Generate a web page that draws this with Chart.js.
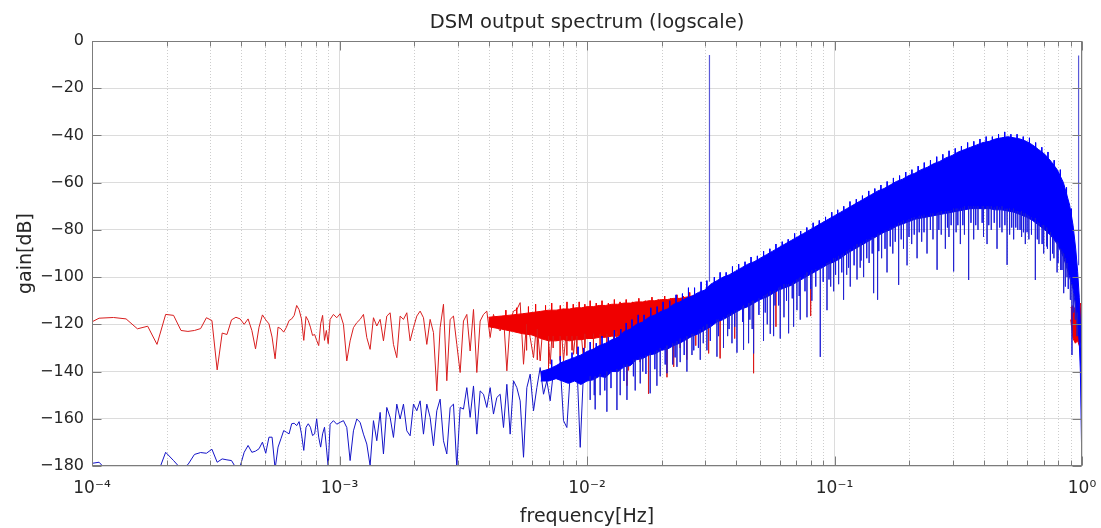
<!DOCTYPE html>
<html><head><meta charset="utf-8">
<script src="https://cdn.jsdelivr.net/npm/chart.js@4.4.1/dist/chart.umd.min.js"></script>
<style>html,body{margin:0;padding:0;background:#fff;}canvas{display:block;}</style>
</head><body>
<canvas id="c" width="1101" height="528"></canvas>
<script>
// ---------------- data ----------------
const titleText = 'DSM output spectrum (logscale)';
const xAxisTitle = 'frequency[Hz]';
const yAxisTitle = 'gain[dB]';
const decades = [1e-4, 1e-3, 1e-2, 1e-1, 1];
const xTickLabels = ['10⁻⁴', '10⁻³', '10⁻²', '10⁻¹', '10⁰'];
const minorSteps = [2, 3, 4, 5, 6, 7, 8, 9];

// lowest FFT bins (mHz)
const lowFreqMilliHz = [0.0916,0.1068,0.1221,0.1373,0.1526,0.1679,0.1831,0.1984,0.2136,0.2289,
 0.2441,0.2594,0.2747,0.2899,0.3052,0.3204,0.3357,0.3510,0.3662,0.3815,
 0.3967,0.4120,0.4272,0.4425,0.4578,0.4730,0.4883,0.5035,0.5188,0.5341,
 0.5493,0.5646,0.5798,0.5951,0.6104,0.6256,0.6409,0.6561,0.6714,0.6866,
 0.7019,0.7172,0.7324,0.7477,0.7629,0.7782,0.7935,0.8087,0.8240,0.8392,
 0.8545,0.8698,0.8850,0.9003];
const redLowDb = [-121,-117.4,-117.1,-117.7,-121.9,-120.8,-128.5,-115.8,-116.2,-122.6,
 -123,-122.6,-121.8,-117.2,-118.4,-139.3,-123.7,-124.3,-118.1,-117,
 -117.7,-120,-117.7,-122.6,-130.4,-121.2,-116,-118.1,-119.8,-125.4,
 -134.6,-121.2,-121.9,-123.3,-121.2,-118.4,-117.7,-116.2,-112,-113.8,
 -117.7,-126.8,-116.7,-118.4,-121.2,-124.7,-124.3,-126.8,-129,-119.8,
 -116.2,-126.8,-122.6,-128.2];
const blueLowDb = [-179.5,-178.4,-185,-190,-188,-186,-184,-174.2,-177.7,-181.2,
 -179.4,-175.1,-174.3,-174.6,-172.9,-178.4,-177,-177.4,-177.7,-180.8,
 -180.2,-174.2,-171.3,-174.2,-173.7,-172.7,-169.9,-174.6,-167.8,-167.8,
 -181.2,-172,-168.5,-165,-165.7,-166.4,-162.1,-161.9,-162.9,-161.2,
 -166.4,-173.4,-163.6,-162.1,-163.6,-167.1,-166.4,-160,-167.8,-172,
 -166.4,-163.6,-172,-180.5];

// middle band (mHz)
const midFreqMilliHz = [0.9163,0.9452,0.9750,1.0057,1.0374,1.0701,1.1038,1.1386,1.1745,1.2115,
 1.2497,1.2890,1.3296,1.3715,1.4147,1.4593,1.5053,1.5527,1.6016,1.6521,
 1.7041,1.7578,1.8132,1.8703,1.9292,1.9900,2.0527,2.1174,2.1841,2.2529,
 2.3239,2.3971,2.4726,2.5505,2.6309,2.7138,2.7993,2.8875,2.9784,3.0723,
 3.1691,3.2689,3.3719,3.4782,3.5878,3.7008,3.8174,3.9376,4.0617,4.1897,
 4.3216,4.458,4.599,4.744,4.893,5.047,5.206,5.370,5.540,5.714,
 5.894,6.080,6.272,6.469,6.673,6.883,7.100,7.324,7.555,7.793,
 8.038,8.292,8.553,8.823,9.101,9.388,9.684,9.989];
const redMidDb = [-117.9,-115.8,-117.2,-115.5,-120,-135.5,-127,-121.4,-119.3,-117.9,
 -115.8,-125.6,-130.6,-117.2,-120.7,-117.9,-127,-116.5,-115.1,-128.5,
 -134.1,-116.5,-117.9,-115.1,-127,-121.4,-116.5,-114.4,-117.2,-128.5,
 -117.9,-123.5,-148.2,-121.4,-111.5,-143.9,-117.9,-116.5,-128.5,-140.4,
 -118.6,-115.8,-131.3,-113.7,-140.4,-118.6,-115.8,-114.4,-125.6,-115.8,
 -120.7,-122.8,-116.5,-139.7,-118.6,-114.4,-113.7,-110.8,-136.9,-117.2,
 -125.6,-134.1,-118.6,-135.5,-117.2,-115.8,-136.9,-114.4,-127,-114.4,
 -135.5,-120,-115.8,-132.7,-117.2,-118.6,-135.5,-115.8];
const blueMidDb = [-162.3,-160.8,-162.3,-161.5,-160.8,-163.7,-177.7,-165.1,-160.1,-161.5,
 -166.5,-170.7,-179.9,-160.8,-169.3,-157.3,-174.9,-155.2,-159.4,-167.9,
 -153.8,-160.1,-153.8,-165.1,-167.2,-153.8,-156.6,-152.4,-166.5,-153.8,
 -159.4,-171.4,-156.6,-151.7,-169.3,-174.9,-155.2,-153.8,-180.6,-155.2,
 -155.9,-146.8,-159.4,-146.1,-166.5,-148.2,-149.6,-155.2,-146.8,-158,
 -151,-149.6,-163.7,-145.4,-166.5,-143.9,-146.8,-152.4,-176.3,-146.8,
 -141.1,-156.6,-146.8,-138.3,-149.6,-143.9,-152.4,-139.7,-142.5,-136.9,
 -160.8,-163.7,-141.1,-139.7,-136.2,-172.1,-139.7,-136.9];

// dense blue band: upper / lower edge of the solid part (Hz)
const blueBandFreq = [0.0065,0.0070,0.0075,0.00794,0.00841,0.00891,0.00944,
 0.0100,0.01059,0.01122,0.01189,0.01259,0.01334,0.01413,0.01496,0.01585,0.01679,
 0.01778,0.01884,0.01995,0.02113,0.02239,0.02371,0.02512,0.02661,0.02818,0.02985,
 0.03162,0.03350,0.03548,0.03758,0.03981,0.04217,0.04467,0.04732,0.05012,0.05309,
 0.05623,0.05957,0.06310,0.06683,0.07079,0.07499,0.07943,0.08414,0.08913,0.09441,
 0.1000,0.1059,0.1122,0.1189,0.1259,0.1334,0.1413,0.1496,0.1585,0.1679,
 0.1778,0.1884,0.1995,0.2113,0.2239,0.2371,0.2512,0.2661,0.2818,0.2985,
 0.3162,0.3350,0.3548,0.3758,0.3981,0.4217,0.4467,0.4732,0.5012,0.5309,
 0.5623,0.5957,0.6310,0.6683,0.7079,0.7499,0.7943,0.8414,0.8913,
 0.92,0.9441,0.96,0.975,0.985,0.992,0.997,1.0];
const blueBandHi = [-140,-139,-137.5,-136,-135,-134,-133,
 -131.5,-130.5,-129,-128,-126.5,-125.5,-123,-122,-120,-119,
 -117,-116,-114.5,-113.5,-111.5,-110.5,-109,-108,-106.5,-105.5,
 -103,-101.5,-100,-99,-97.5,-96,-94.5,-93.5,-92,-90.5,
 -89,-87.5,-86,-84.5,-83,-81.5,-80,-78.5,-77,-75.5,
 -74,-72.5,-71,-69.5,-68,-66.5,-65,-63.5,-62.5,-61,
 -59.5,-58.5,-57,-56,-54.5,-53.5,-52,-51,-49.5,-48.5,
 -47,-46,-45,-44,-43,-42.5,-41.5,-41,-40.5,-41,
 -41.5,-42.5,-44,-46,-48,-51,-54.5,-60,-69.5,
 -78,-88.5,-97.5,-108.5,-119,-133,-151,-175];
const blueBandLo = [-144,-144,-143,-144,-145,-144,-145.5,
 -144,-143.5,-142,-142.5,-140,-140,-138,-137.5,-135,-134.5,
 -133,-132.5,-131,-130.5,-129,-128,-126.5,-125,-124,-122.5,
 -121,-119,-118,-116.5,-115,-113.5,-112.5,-111,-109.5,-108.5,
 -107,-105.5,-104.5,-103.5,-102,-100.5,-99,-97.5,-96,-94.5,
 -93.5,-92,-90,-88.5,-87,-85.5,-84,-82.5,-81,-80,
 -78.5,-77.5,-76.5,-75.5,-75,-74.5,-74,-73.5,-73,-72.5,
 -72,-71.5,-71,-71,-71,-71,-71.5,-71.5,-72,-72.5,
 -73.5,-74.5,-76,-78,-80,-82.5,-86,-91.5,-100,
 -105,-113,-119,-128,-140,-160,-175,-185];

// small upward spikes on top of the blue band (Hz, dB)
const bluePeakFreq = [0.0072,0.0078,0.0087,0.0092,0.0097,0.0103,0.0109,0.0115,0.0122,0.0129,
 0.0137,0.0144,0.0152,0.0161,0.0170,0.0181,0.0192,0.0203,0.0216,0.0229,
 0.0243,0.0257,0.0272,0.0289,0.0305,0.0327,0.0345,0.0365,0.0387,0.0410,
 0.0435,0.0460,0.0488,0.0517,0.0548,0.0580,0.0615,0.0650,0.0690,0.0730,
 0.0773,0.0820,0.0868,0.0920,0.0975,0.1030,0.1090,0.1155,0.1225,0.1297,
 0.1375,0.1455,0.1540,0.1632,0.1730,0.1832,0.1940,0.2055,0.2178,0.2305,
 0.2442,0.2588,0.2740,0.2903,0.3075,0.3257,0.3450,0.3655,0.3870,0.4100,
 0.4343,0.4600,0.4872,0.5160,0.5466,0.5790,0.6133,0.6496,0.6880,0.7287,
 0.7718,0.8175,0.8660,0.9050];
const bluePeakDb = [-135,-133.5,-132,-129.5,-130,-127.5,-128,-125,-125.5,-122.5,
 -122,-119.5,-118,-116,-116,-113,-112.5,-110.5,-110,-107.5,
 -107,-104.5,-104.5,-102,-101.5,-100,-98,-98,-95.5,-94.5,
 -93.5,-91.5,-91,-89,-88,-86,-85,-84,-81.5,-80.5,
 -79,-77,-76,-74.5,-72.5,-71.5,-70,-68,-67,-65.5,
 -63.5,-62.5,-61,-59.5,-58,-57,-55.5,-54.5,-53,-51.5,
 -50.5,-49,-48,-46.5,-45.5,-44.5,-43,-42.5,-41.5,-40.5,
 -40.5,-39.5,-38.5,-39.5,-39.5,-40.5,-41,-43,-45,-47,
 -50.5,-54.5,-62,-71];

// deep downward spikes of the blue trace (Hz, from dB, to dB)
const blueDipFreq = [0.0103,0.01079,0.0113,0.01203,0.01321,0.01362,0.0145,0.01566,0.01641,0.0168,
 0.018,0.01916,0.01976,0.02104,0.0222,0.02309,0.0238,0.02533,0.02655,0.02868,
 0.0295,0.03052,0.0335,0.03561,0.037,0.03852,0.04035,0.04291,0.04496,0.0465,
 0.0471,0.05167,0.0535,0.05501,0.05674,0.06037,0.0625,0.06524,0.06834,0.0705,
 0.07272,0.0774,0.081,0.08761,0.09326,0.0965,0.0992,0.1039,0.1088,0.112,
 0.1158,0.1233,0.127,0.1311,0.138,0.1439,0.1493,0.155,0.163,0.172,
 0.1816,0.19,0.1964,0.205,0.2156,0.225,0.2365,0.25,0.2597,0.27,
 0.2805,0.29,0.3029,0.31,0.3225,0.335,0.3483,0.365,0.38,0.40,
 0.4134,0.43,0.4536,0.475,0.4981,0.51,0.5294,0.55,0.57,0.5903,
 0.61,0.6479,0.67,0.7002,0.72,0.7453,0.77,0.7931,0.82,0.8433,
 0.8567,0.87,0.8976,0.911,0.9258,0.94,0.9554];
const blueDipTop = [-142,-142,-141,-140,-139,-139,-137,-135,-134,-134,
 -132,-131,-130,-129,-128,-127,-126,-125,-124,-122,
 -121,-120,-118,-117,-116,-115,-114,-112,-111,-110,
 -110,-108,-107,-106,-106,-104,-103,-103,-102,-101,
 -100,-98,-97,-96,-94,-93,-92,-91,-90,-89,
 -88,-86,-86,-85,-84,-83,-82,-81,-80,-79,
 -77,-76,-76,-75,-75,-74,-74,-73,-73,-72,
 -72,-72,-71,-71,-71,-70,-70,-70,-70,-70,
 -70,-70,-70,-70,-71,-71,-71,-72,-72,-73,
 -74,-75,-77,-78,-79,-81,-84,-85,-88,-90,
 -92,-94,-100,-103,-107,-110,-115];
const blueDipDb = [-152,-156,-150,-157,-156.3,-150,-152,-148,-145,-140,
 -149.2,-146,-142,-140.7,-137,-138,-136,-140,-133,-135,
 -128,-131,-133.7,-130,-125,-128,-132,-130.8,-128,-122,
 -132.3,-127,-120,-124,-125,-126,-117,-123.8,-121,-114,
 -118,-117,-110,-133.8,-114,-104,-106,-103,-109.6,-99,
 -104,-101,-96,-100,-94,-106.8,-109.6,-92,-98,-90,
 -103.3,-88,-95,-86,-92,-85,-90,-84,-96.9,-82,
 -88,-83,-97.6,-81,-86,-82,-101.2,-84,-80,-83,
 -86,-80,-88,-81,-94.8,-82,-84,-80,-83,-86,
 -84,-101.2,-86,-90,-87,-93,-92,-98,-97,-106.8,
 -104,-100,-109.6,-133,-115,-118,-125];

// short downward fringe under the blue band (Hz, from dB, to dB)
const blueFringeFreq = [0.0107,0.0118,0.0125,0.0141,0.0154,0.0173,0.0188,0.0207,0.0227,0.0247,
 0.0270,0.0282,0.0315,0.0340,0.0375,0.0395,0.0425,0.0455,0.0495,0.0525,
 0.0575,0.0595,0.0640,0.0675,0.0720,0.0760,0.0800,0.0840,0.0900,0.0950,
 0.1010,0.1070,0.1140,0.1200,0.1280,0.1350,0.1420,0.1510,0.1600,0.1680,
 0.1760,0.1860,0.2000,0.2100,0.2200,0.2300,0.2440,0.2640,0.2860,0.2960,
 0.3150,0.3300,0.3560,0.3720,0.3950,0.4200,0.4420,0.4650,0.4880,0.5200,
 0.5400,0.5620,0.5800,0.6000,0.6250,0.6600,0.6900,0.7250,0.7600,0.8000,
 0.8300,0.8800];
const blueFringeTop = [-142.5,-141.5,-139.5,-137,-135,-133,-131.5,-130,-128,-126,
 -124,-123,-120,-118,-115.5,-114,-112.5,-111,-109,-107.5,
 -105.5,-104.5,-103,-102.5,-100.5,-99,-98,-96.5,-95,-93.5,
 -92,-90.5,-88.5,-87,-85.5,-84,-83,-81.5,-80,-79,
 -78,-76.5,-75.5,-74.5,-74,-73.5,-73,-72.5,-72,-71.5,
 -71,-70.5,-70,-70,-70,-70,-70.5,-70.5,-71,-71.5,
 -72,-72.5,-73,-73.5,-74.5,-76.5,-78,-80,-82.5,-85.5,
 -89,-97];
const blueFringeDb = [-150,-148,-147,-144,-142,-141,-139,-137,-134,-133,
 -131,-130,-127,-125,-122,-121,-119,-118,-116,-115,
 -112,-112,-110,-109,-108,-106,-105,-104,-102,-101,
 -99,-98,-96,-95,-93,-92,-90,-89,-88,-87,
 -85,-84,-83,-82,-81,-81,-80,-80,-79,-78,
 -78,-78,-77,-78,-77,-78,-77,-79,-78,-79,
 -79,-80,-81,-81,-82,-84,-86,-88,-90,-94,
 -97,-105];

// dense red band (Hz)
const redBandFreq = [0.0040,0.0045,0.0050,0.0055,0.0060,0.0065,0.0070,0.0075,0.0080,0.0085,
 0.0090,0.0095,0.0100,0.0106,0.0112,0.0119,0.0126,0.0133,0.0141,0.0150,
 0.0158,0.0168,0.0178,0.0188,0.0200,0.0211,0.0224,0.0237,0.0251,0.0266,
 0.0282,0.0299,0.0316];
const redBandHi = [-117,-116.5,-116,-115.5,-115,-114.5,-114,-114,-113.5,-113.5,
 -113,-113,-112.5,-112.5,-112,-112,-111.5,-111.5,-111,-111,
 -110.5,-110.5,-110,-110,-109.5,-109.5,-109,-109,-108.5,-108,
 -107.5,-107,-106.5];
const redBandLo = [-121,-122,-123,-124,-124.5,-126,-127,-127,-126.5,-127,
 -126.5,-126.5,-126,-126,-125.5,-125.5,-125,-125,-124.5,-124,
 -123.5,-123,-122.5,-122,-121.5,-121,-121,-120.5,-120,-119,
 -117,-114,-110];
const redPeakFreq = [0.0047,0.0052,0.0058,0.0062,0.0068,0.0072,0.0078,0.0083,0.0088,0.0093,
 0.0098,0.0103,0.0109,0.0115,0.0122,0.0129,0.0136,0.0144,0.0153,0.0162,
 0.0172,0.0183,0.0194,0.0206,0.0218,0.0231,0.0245,0.0260,0.0275];
const redPeakDb = [-114,-113,-112.5,-111.5,-112,-111,-112,-110.5,-111.5,-110.5,
 -111.5,-110,-111,-110,-111,-109.5,-110.5,-109.5,-110.5,-109,
 -110,-108.5,-109.5,-108,-109,-107.5,-108,-106.5,-107.5];
const redEdgeFreq = [0.900,0.920,0.940,0.960,0.975,0.985,0.993,1.000];
const redEdgeHi = [-113,-112,-114,-112,-113,-111,-114,-116];
const redEdgeLo = [-118,-126,-128,-127,-129,-127,-128,-126];
const redDipFreq = [0.0057,0.0063,0.00699,0.0073,0.00779,0.00829,0.0087,0.0091,0.0098,0.01062,
 0.0113,0.01203,0.0128,0.0132,0.0138,0.0145,0.01472,0.0155,0.0164,0.01772,
 0.0186,0.0195,0.02104,0.0224,0.0238,0.0253,0.0275,0.031,0.0345,0.0395,
 0.0471,0.058,0.0801];
const redDipTop = [-120,-122,-125,-125,-125,-125,-125,-125,-124,-124,
 -124,-124,-123,-123,-123,-122,-122,-122,-121,-120,
 -120,-119,-119,-119,-118,-117,-116,-116,-114,-112,
 -108,-104,-98];
const redDipDb = [-131,-135,-139.5,-130,-135.3,-133.2,-131,-132.5,-130,-136.7,
 -133.7,-133.9,-138,-135,-130,-146,-139.5,-131,-136,-149.4,
 -132,-130,-142.4,-138,-130,-135,-129,-132.3,-134.4,-126,
 -140.7,-121,-116.5];

// the tone at 1/32 Hz and its image
const toneFreq = [0.03125, 0.03125, 0.96875];
const toneTop = [-5.9, -59, -6.1];
const toneBase = [-102, -102, -95];

// ---------------- build datasets from the arrays ----------------
const FONT = '"DejaVu Sans", "Liberation Sans", sans-serif';
const TXT = '#262626';
const PEAK_LEN = 4.5; // drawn length of the small upward spikes, into the band
const toPts = (fs, ys, k) => fs.map((f, i) => ({x: f * k, y: ys[i]}));
const toSpikes = (fs, tops, bots) => {
  const out = [];
  fs.forEach((f, i) => { out.push({x: f, y: tops[i]}, {x: f, y: bots[i]}, {x: f, y: null}); });
  return out;
};
const toPeaks = (fs, tops) => toSpikes(fs, tops, tops.map(t => t - PEAK_LEN));
const redTrace = toPts(lowFreqMilliHz.concat(midFreqMilliHz), redLowDb.concat(redMidDb), 1e-3);
const blueTrace = toPts(lowFreqMilliHz.concat(midFreqMilliHz), blueLowDb.concat(blueMidDb), 1e-3);

const BLUE = '#0000ff', RED = '#f00000';
const base = {pointRadius: 0, pointHoverRadius: 0, tension: 0, borderWidth: 1, fill: false,
  spanGaps: false, borderJoinStyle: 'bevel'};

const datasets = [
  Object.assign({}, base, {order: 1, data: toSpikes(toneFreq, toneTop, toneBase), borderColor: 'rgba(20,20,200,0.7)', borderWidth: 1.2}),
  Object.assign({}, base, {order: 1, data: toSpikes(blueDipFreq, blueDipTop, blueDipDb), borderColor: 'rgba(30,30,210,0.75)'}),
  Object.assign({}, base, {order: 1, data: toSpikes(blueFringeFreq, blueFringeTop, blueFringeDb), borderColor: 'rgba(20,20,230,0.8)'}),
  Object.assign({}, base, {order: 1, data: toPeaks(bluePeakFreq, bluePeakDb), borderColor: BLUE}),
  Object.assign({}, base, {order: 1, data: toPts(blueBandFreq, blueBandHi, 1), borderColor: BLUE}),
  Object.assign({}, base, {order: 1, data: toPts(blueBandFreq, blueBandLo, 1), borderColor: BLUE, backgroundColor: BLUE, fill: '-1'}),
  Object.assign({}, base, {order: 1, data: blueTrace, borderColor: '#1414c8'}),
  Object.assign({}, base, {order: 2, data: toSpikes(redDipFreq, redDipTop, redDipDb), borderColor: 'rgba(220,25,25,0.85)'}),
  Object.assign({}, base, {order: 2, data: toPeaks(redPeakFreq, redPeakDb), borderColor: RED}),
  Object.assign({}, base, {order: 2, data: toPts(redBandFreq, redBandHi, 1), borderColor: RED}),
  Object.assign({}, base, {order: 2, data: toPts(redBandFreq, redBandLo, 1), borderColor: RED, backgroundColor: RED, fill: '-1'}),
  Object.assign({}, base, {order: 2, data: toPts(redEdgeFreq, redEdgeHi, 1), borderColor: RED}),
  Object.assign({}, base, {order: 2, data: toPts(redEdgeFreq, redEdgeLo, 1), borderColor: RED, backgroundColor: RED, fill: '-1'}),
  Object.assign({}, base, {order: 2, data: redTrace, borderColor: '#d81e1e'})
];

const xTicks = [];
decades.forEach((d, i) => {
  xTicks.push({value: d, major: true});
  if (i < decades.length - 1) minorSteps.forEach(m => xTicks.push({value: m * d, major: false}));
});

const axisFrame = {
  id: 'axisFrame',
  beforeDatasetsDraw(chart) {
    const {ctx, chartArea: a, scales: {x}} = chart;
    ctx.save();
    ctx.strokeStyle = '#cdcdcd';
    ctx.lineWidth = 1;
    ctx.setLineDash([1, 2]);
    x.ticks.forEach(t => {
      if (t.major) return;
      const px = Math.round(x.getPixelForValue(t.value)) + 0.5;
      ctx.beginPath(); ctx.moveTo(px, a.top); ctx.lineTo(px, a.bottom); ctx.stroke();
    });
    ctx.restore();
  },
  afterDraw(chart) {
    const {ctx, chartArea: a, scales: {x, y}} = chart;
    const L = Math.round(a.left) + 0.5, R = Math.round(a.right) - 0.5;
    const T = Math.round(a.top) + 0.5, B = Math.round(a.bottom) - 0.5;
    ctx.save();
    ctx.strokeStyle = '#7c7c7c';
    ctx.lineWidth = 1;
    ctx.strokeRect(L, T, R - L, B - T);
    ctx.beginPath();
    x.ticks.forEach(t => {
      const px = Math.round(x.getPixelForValue(t.value)) + 0.5;
      const len = t.major ? 9 : 5;
      ctx.moveTo(px, B); ctx.lineTo(px, B - len);
      ctx.moveTo(px, T); ctx.lineTo(px, T + len);
    });
    y.ticks.forEach(t => {
      const py = Math.round(y.getPixelForValue(t.value)) + 0.5;
      ctx.moveTo(L, py); ctx.lineTo(L + 9, py);
      ctx.moveTo(R, py); ctx.lineTo(R - 9, py);
    });
    ctx.stroke();
    ctx.restore();
  }
};

new Chart(document.getElementById('c'), {
  type: 'line',
  data: {datasets},
  plugins: [axisFrame],
  options: {
    responsive: false, animation: false, devicePixelRatio: 1, events: [],
    layout: {padding: {left: 0, right: 19, top: 0, bottom: 0}},
    plugins: {
      legend: {display: false},
      tooltip: {enabled: false},
      title: {display: true, text: titleText, fullSize: false, align: 'center', color: TXT,
        font: {family: FONT, size: 19.5, weight: 'normal', lineHeight: 1.2},
        padding: {top: 11, bottom: 6.6}}
    },
    scales: {
      x: {
        type: 'logarithmic', min: 1e-4, max: 1,
        afterBuildTicks: s => { s.ticks = xTicks.map(t => ({value: t.value, major: t.major})); },
        afterFit: s => { s.height = 62; s.paddingLeft = 0; s.paddingRight = 0; },
        grid: {color: c => (c.tick && c.tick.major) ? '#dcdcdc' : 'rgba(0,0,0,0)', drawTicks: false},
        border: {display: false},
        ticks: {autoSkip: false, maxRotation: 0, minRotation: 0, padding: 12, color: TXT,
          font: {family: FONT, size: 17},
          callback: (v, i, ticks) => ticks[i].major ? xTickLabels[decades.indexOf(v)] : ''},
        title: {display: true, text: xAxisTitle, color: TXT, font: {family: FONT, size: 19}, padding: {top: 0, bottom: 0}}
      },
      y: {
        type: 'linear', min: -180, max: 0,
        afterFit: s => { s.width = 92; s.paddingTop = 0; s.paddingBottom = 0; },
        grid: {color: '#dcdcdc', drawTicks: false},
        border: {display: false},
        ticks: {stepSize: 20, padding: 8, color: TXT, font: {family: FONT, size: 16},
          callback: v => v < 0 ? '\u2212' + (-v) : String(v)},
        title: {display: true, text: yAxisTitle, color: TXT, font: {family: FONT, size: 19}, padding: {top: 15, bottom: 0}}
      }
    }
  }
});
</script>
</body></html>
